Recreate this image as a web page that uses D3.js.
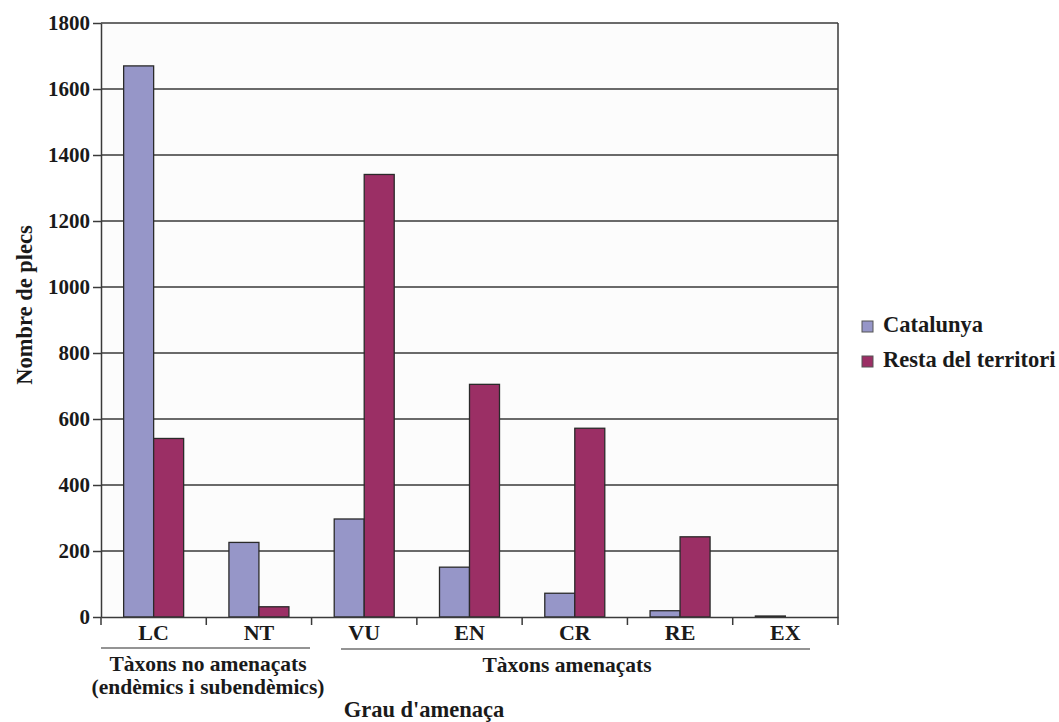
<!DOCTYPE html>
<html>
<head>
<meta charset="utf-8">
<script src="https://cdn.jsdelivr.net/npm/d3@7"></script>
<style>
  body { margin: 0; background: #fff; }
  svg text { font-family: "Liberation Serif", "DejaVu Serif", serif; font-weight: bold; fill: #1a1a1a; }
</style>
</head>
<body>
<div id="chart"></div>
<script>
// dades
const categories = ["LC", "NT", "VU", "EN", "CR", "RE", "EX"];
const seriesNames = ["Catalunya", "Resta del territori"];
const catalunya = [1670, 226, 297, 151, 72, 19, 3];
const resta = [541, 31, 1341, 705, 572, 243, 0];
const yTicks = [0, 200, 400, 600, 800, 1000, 1200, 1400, 1600, 1800];
const colors = ["#9696c8", "#9b2f65"];

const W = 1059, H = 722;
const margin = { top: 23, left: 101, right: 221, bottom: 105 };
const width = W - margin.left - margin.right;
const height = H - margin.top - margin.bottom;

const svg = d3.select("#chart").append("svg")
  .attr("width", W).attr("height", H);

const g = svg.append("g")
  .attr("transform", `translate(${margin.left},${margin.top})`);

// fons de l'àrea
g.append("rect")
  .attr("width", width).attr("height", height)
  .attr("fill", "#fcfcfc");

const x = d3.scaleBand().domain(categories).range([0, width]);
const xs = d3.scaleBand().domain(seriesNames).range([0, 60]);
const y = d3.scaleLinear().domain([0, 1800]).range([height, 0]);

// línies de quadrícula
g.selectAll(".grid").data(yTicks.filter(d => d > 0))
  .enter().append("line")
  .attr("x1", 0).attr("x2", width)
  .attr("y1", d => y(d)).attr("y2", d => y(d))
  .attr("stroke", "#3a3a3a").attr("stroke-width", 1.5);

// vora dreta
g.append("line")
  .attr("x1", width).attr("x2", width).attr("y1", 0).attr("y2", height)
  .attr("stroke", "#3a3a3a").attr("stroke-width", 1.5);

// barres
const data = categories.map((c, i) => ({ cat: c, vals: [catalunya[i], resta[i]] }));
const groups = g.selectAll(".grp").data(data).enter().append("g")
  .attr("transform", d => `translate(${x(d.cat) + x.bandwidth() / 2 - 30},0)`);

groups.selectAll("rect")
  .data(d => d.vals.map((v, j) => ({ name: seriesNames[j], v, j })))
  .enter().append("rect")
  .attr("x", d => xs(d.name))
  .attr("y", d => y(d.v))
  .attr("width", xs.bandwidth())
  .attr("height", d => height - y(d.v))
  .attr("fill", d => colors[d.j])
  .attr("stroke", d => d.v > 0 ? "#2a2a2a" : "none")
  .attr("stroke-width", 1.3);

// eix Y
const yAxis = g.append("g")
  .call(d3.axisLeft(y).tickValues(yTicks).tickFormat(d3.format("d"))
    .tickSize(8).tickSizeOuter(0).tickPadding(3));
yAxis.select(".domain").attr("stroke", "#3a3a3a").attr("stroke-width", 1.5);
yAxis.selectAll(".tick line").attr("stroke", "#3a3a3a").attr("stroke-width", 1.5);
yAxis.selectAll("text").style("font-size", "21px").attr("fill", "#1a1a1a");

// eix X
const xAxis = g.append("g").attr("transform", `translate(0,${height})`)
  .call(d3.axisBottom(x).tickSize(0).tickPadding(7));
xAxis.select(".domain").attr("stroke", "#3a3a3a").attr("stroke-width", 1.5);
xAxis.selectAll("text").style("font-size", "22px").attr("fill", "#1a1a1a");

// marques entre categories
g.selectAll(".xtick").data(d3.range(categories.length + 1))
  .enter().append("line")
  .attr("x1", i => i * x.step()).attr("x2", i => i * x.step())
  .attr("y1", height).attr("y2", height + 8)
  .attr("stroke", "#3a3a3a").attr("stroke-width", 1.5);

// grups de categories
const bracketGroups = [
  { x0: 0, x1: 209, ly: 648, cx: 208, tys: [671, 694], lines: ["Tàxons no amenaçats", "(endèmics i subendèmics)"] },
  { x0: 240, x1: 709, ly: 649, cx: 567, tys: [672], lines: ["Tàxons amenaçats"] }
];
bracketGroups.forEach(b => {
  g.append("line")
    .attr("x1", b.x0).attr("x2", b.x1)
    .attr("y1", b.ly - margin.top).attr("y2", b.ly - margin.top)
    .attr("stroke", "#2a2a2a").attr("stroke-width", 1.2);
  b.lines.forEach((t, k) => {
    svg.append("text")
      .attr("x", b.cx).attr("y", b.tys[k])
      .attr("text-anchor", "middle")
      .style("font-size", "21.5px")
      .text(t);
  });
});

// títols dels eixos
svg.append("text")
  .attr("x", 424).attr("y", 717)
  .attr("text-anchor", "middle")
  .style("font-size", "22.5px")
  .text("Grau d'amenaça");

svg.append("text")
  .attr("transform", "translate(32,305) rotate(-90)")
  .attr("text-anchor", "middle")
  .style("font-size", "22.5px")
  .text("Nombre de plecs");

// llegenda
const legend = svg.append("g").attr("transform", "translate(862,321)");
const items = legend.selectAll(".li").data(seriesNames).enter().append("g")
  .attr("transform", (d, i) => `translate(0,${i * 35})`);
items.append("rect")
  .attr("width", 11).attr("height", 11)
  .attr("fill", (d, i) => colors[i])
  .attr("stroke", "#555").attr("stroke-width", 1);
items.append("text")
  .attr("x", 21).attr("y", 11)
  .style("font-size", "22.5px")
  .text(d => d);
</script>
</body>
</html>
